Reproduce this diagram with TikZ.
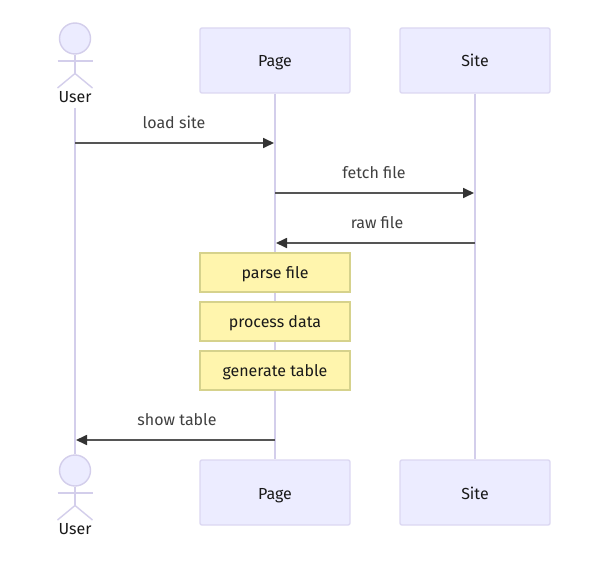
\documentclass[tikz,border=0pt]{standalone}
\usepackage{fontspec}
\setmainfont{Fira Sans}
\usetikzlibrary{arrows.meta}
\definecolor{boxfill}{HTML}{ECECFF}
\definecolor{boxline}{HTML}{DCD8F2}
\definecolor{lifeline}{HTML}{D3CEEB}
\definecolor{notefill}{HTML}{FFF5AD}
\definecolor{noteline}{HTML}{D6D28C}
\definecolor{msgline}{HTML}{555555}

\begin{document}
\begin{tikzpicture}[x=1pt,y=-1pt,
  every node/.style={font=\fontsize{16}{18}\selectfont,text=black!90,
    text height=13pt,text depth=0pt},
  participant/.style={draw=boxline,fill=boxfill,line width=1.4pt,rounded corners=2pt,
    minimum width=150pt,minimum height=65pt,inner sep=0pt},
  notebox/.style={draw=noteline,fill=notefill,line width=1.4pt,
    minimum width=150pt,minimum height=39pt,inner sep=0pt,text height=12pt},
  life/.style={lifeline,line width=1.6pt},
  stick/.style={lifeline,line width=1.4pt},
  message/.style={msgline,line width=1.7pt,
    -{Triangle[length=11pt,width=10pt,color=black!80]}},
  msglabel/.style={text=black!75,inner sep=0pt}]
  \useasboundingbox (0,0) rectangle (591,567);
  \fill[white] (0,0) rectangle (591,567);

  % participants, head and foot of each lifeline
  \foreach \nam/\lab/\px in {page/Page/275,site/Site/475}
  {
    \node[participant] (\nam-top) at (\px,60.5) {\lab};
    \node[participant] (\nam-bot) at (\px,492.5) {\lab};
    \draw[life] (\nam-top) -- (\nam-bot);
  }

  % the actor is drawn twice, \ay is the centre of the head
  \foreach \nam/\ay in {top/38.5,bot/470.5}
  {
    \node[draw=lifeline,fill=boxfill,circle,line width=1.4pt,minimum size=31pt,inner sep=0pt]
      (head-\nam) at (75,\ay) {};
    \coordinate (hip-\nam) at (75,{\ay+35});
    \coordinate (arml-\nam) at (57.5,{\ay+22.5});
    \coordinate (armr-\nam) at (92.5,{\ay+22.5});
    \coordinate (legl-\nam) at (57.5,{\ay+49.5});
    \coordinate (legr-\nam) at (92.5,{\ay+49.5});
    \draw[stick] (head-\nam.south) -- (hip-\nam);
    \draw[stick] (arml-\nam) -- (armr-\nam);
    \draw[stick] (legl-\nam) -- (hip-\nam) -- (legr-\nam);
    \node[inner sep=0pt] (user-\nam) at (75,{\ay+57.2}) {User};
  }

  \coordinate (user-start) at (75,108);
  \draw[life] (user-start) -- (head-bot.north);

  % notes sit on top of the page lifeline
  \foreach \nam/\lab/\py in {parse/parse file/272.5,process/process data/321.5,generate/generate table/370.5}
    \node[notebox] (\nam) at (275,\py) {\lab};

  % messages: a and b are the ends on the lifelines
  \foreach \nam/\xa/\xb/\py/\lab/\lx in {
    load/75/274/143/load site/174,
    fetch/275/474/193/fetch file/374,
    raw/475/276/243/raw file/377,
    show/275/76/440/show table/177}
  {
    \coordinate (\nam-a) at (\xa,\py);
    \coordinate (\nam-b) at (\xb,\py);
    \draw[message] (\nam-a) -- (\nam-b);
    \node[msglabel] (\nam-label) at (\lx,{\py-20.8}) {\lab};
  }
\end{tikzpicture}
\end{document}
